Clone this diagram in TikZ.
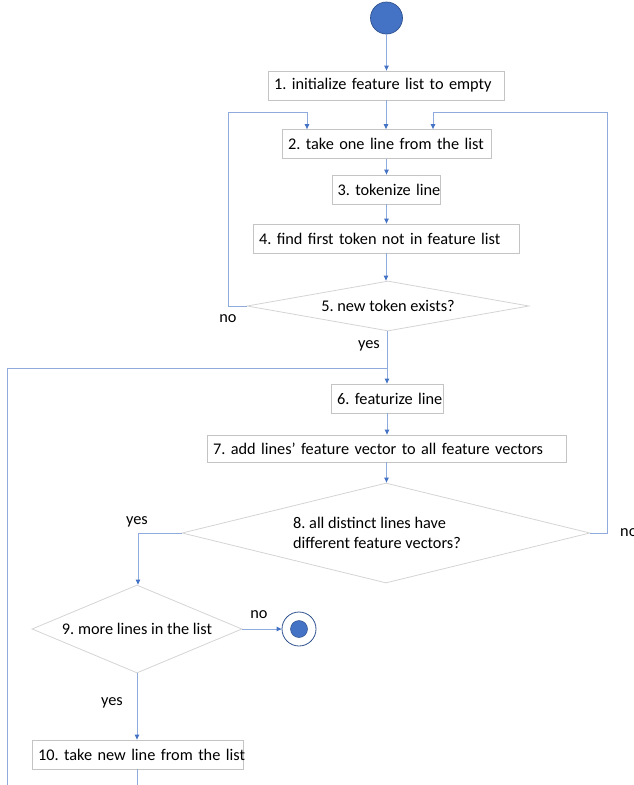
\documentclass[tikz,border=0pt]{standalone}
\usepackage{fontspec}
\setmainfont{Carlito}
\usetikzlibrary{arrows.meta,shapes.geometric}
\frenchspacing

\definecolor{lineblue}{HTML}{8FAADC}
\definecolor{tipblue}{HTML}{4472C4}
\definecolor{boxgray}{HTML}{C4C4C4}
\definecolor{diagray}{HTML}{D4D4D4}
\definecolor{darkblue}{HTML}{2F528F}

\tikzset{
  x=1pt, y=-1pt,
  every node/.style={font=\fontsize{16.3}{20}\selectfont},
  stepbox/.style={draw=boxgray, line width=0.8pt, rectangle, inner xsep=6pt,
    inner ysep=0pt, align=left, minimum height=#1},
  stepbox/.default=29pt,
  decision/.style={draw=diagray, line width=0.8pt, diamond, inner sep=0pt, align=left},
  flow/.style={draw=lineblue, line width=0.9pt},
  arr/.style={flow, -{Triangle[length=5pt,width=4.5pt,color=tipblue]}},
  lbl/.style={inner sep=0pt},
}

\begin{document}
\begin{tikzpicture}
\useasboundingbox (0,0) rectangle (634,785);

% start and end markers
\node[circle, fill=tipblue, draw=darkblue, line width=0.7pt, minimum size=32pt, inner sep=0pt] (start) at (386.5,18) {};
\node[circle, fill=white, draw=darkblue, line width=0.8pt, minimum size=34pt, inner sep=0pt] (stop) at (299,629) {};
\node[circle, fill=tipblue, draw=darkblue, line width=0.5pt, minimum size=17pt, inner sep=0pt] (stopdot) at (stop.center) {};

% process steps (text flush left, one line each)
\node[stepbox, text width=224pt] (b1) at (386,85.5) {\mbox{1. initialize feature list to empty}};
\node[stepbox, text width=197pt] (b2) at (386.5,144) {\mbox{2. take one line from the list}};
\node[stepbox, text width=98pt, inner xsep=5pt] (b3) at (386.5,189.5) {\mbox{3. tokenize line}};
\node[stepbox, text width=254pt] (b4) at (386,238.5) {\mbox{4. find first token not in feature list}};
\node[stepbox, text width=100pt] (b6) at (387,398.5) {\mbox{6. featurize line}};
\node[stepbox=27pt, text width=347pt] (b7) at (386.5,448.5) {\mbox{7. add lines’ feature vector to all feature vectors}};
\node[stepbox, text width=199pt] (b10) at (137.5,754.5) {\mbox{10. take new line from the list}};

% decisions
\node[decision, minimum width=282pt, minimum height=50pt, aspect=5.6] (d5) at (388,306) {5. new token exists?};
\node[decision, minimum width=408pt, minimum height=100pt, aspect=4.1] (d8) at (386,533) {8. all distinct lines have\\different feature vectors?\hspace*{18pt}};
\node[decision, minimum width=210pt, minimum height=88pt, aspect=2.4] (d9) at (137,629) {9. more lines in the list};

% loop corners and free ends
\coordinate (nl1) at (228,306);
\coordinate (nl2) at (228,112);
\coordinate (nl3) at (307,112);
\coordinate (nr1) at (607,533);
\coordinate (nr2) at (607,112);
\coordinate (nr3) at (433,112);
\coordinate (yl) at (138,533);
\coordinate (back0) at (7,785);
\coordinate (back1) at (7,368);
\coordinate (back2) at (386.5,368);
\coordinate (down) at (137.5,785);

% main column
\draw[arr] (start.south) -- (start.south |- b1.north);
\draw[arr] (b1.south) -- (b1.south |- b2.north);
\draw[arr] (b2.south) -- (b2.south |- b3.north);
\draw[arr] (b3.south) -- (b3.south |- b4.north);
\draw[arr] (b4.south) -- (b4.south |- d5.north);
\draw[arr] (d5.south -| b6.north) -- (b6.north);
\draw[arr] (b6.south) -- (b6.south |- b7.north);
\draw[arr] (b7.south) -- (b7.south |- d8.north);

% 5 -> no: back to step 2
\draw[arr] (d5.west) -- (nl1) -- (nl2) -- (nl3) -- (nl3 |- b2.north);
% 8 -> no: back to step 2
\draw[arr] (d8.east) -- (nr1) -- (nr2) -- (nr3) -- (nr3 |- b2.north);
% 8 -> yes
\draw[arr] (d8.west) -- (yl) -- (yl |- d9.north);
% 9 -> no / yes
\draw[arr] (d9.east) -- (stop.west);
\draw[arr] (d9.south) -- (d9.south |- b10.north);
\draw[flow] (b10.south) -- (down);
% return from step 10
\draw[flow] (back0) -- (back1) -- (back2);

% branch labels
\node[lbl] (no5) at (228,319) {no};
\node[lbl] (yes5) at (369,346) {yes};
\node[lbl] (yes8) at (137,522) {yes};
\node[lbl, anchor=west] (no8) at (620,533) {no};
\node[lbl] (no9) at (259,615) {no};
\node[lbl] (yes9) at (112,703) {yes};
\end{tikzpicture}
\end{document}
